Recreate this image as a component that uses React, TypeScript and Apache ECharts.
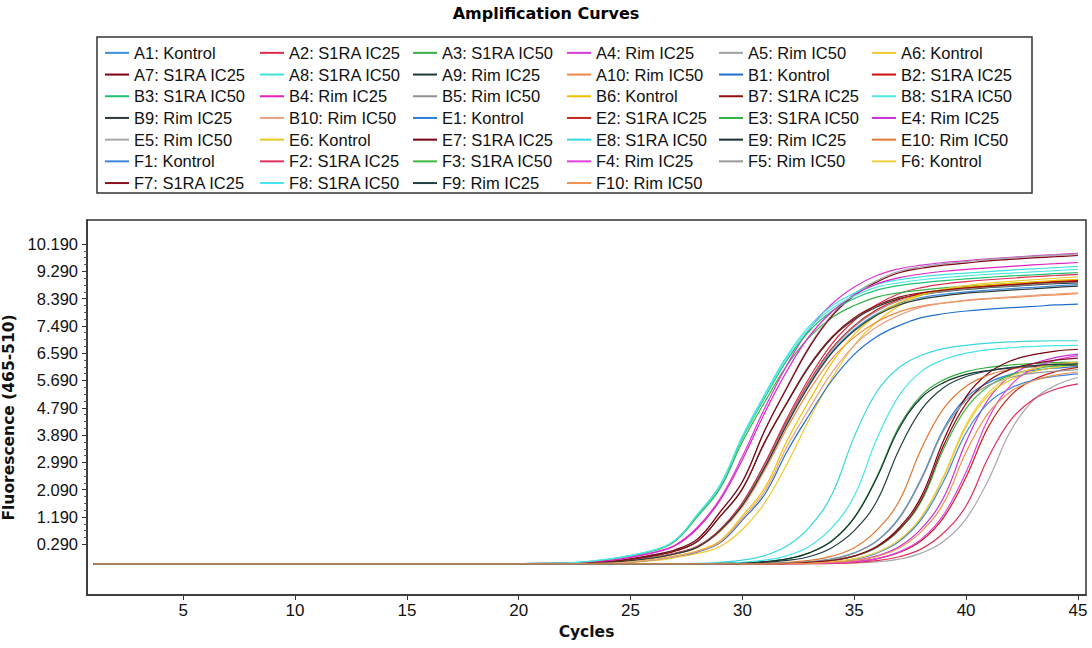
import React, { useEffect, useRef } from "react";
import * as echarts from "echarts";

const CYCLES = [1, 18, 22, 24, 26, 27, 28, 29, 30, 31, 32, 33, 34, 35, 36, 37, 38, 39, 40, 41, 42, 43, 44, 45];

// Early-rising wells (rows A and B)
const A1 = [-0.35, -0.35, -0.35, -0.31, -0.16, -0.02, 0.21, 0.74, 1.59, 2.84, 4.28, 5.57, 6.63, 7.37, 7.88, 8.23, 8.42, 8.53, 8.61, 8.67, 8.72, 8.76, 8.81, 8.85];
const A2 = [-0.35, -0.35, -0.35, -0.31, -0.15, 0.0, 0.23, 0.78, 1.67, 2.96, 4.45, 5.79, 6.9, 7.67, 8.19, 8.55, 8.75, 8.87, 8.95, 9.01, 9.06, 9.11, 9.15, 9.19];
const A3 = [-0.35, -0.35, -0.33, -0.21, 0.07, 0.4, 1.21, 2.13, 3.67, 4.98, 6.2, 7.13, 7.76, 8.16, 8.44, 8.58, 8.67, 8.74, 8.79, 8.84, 8.89, 8.93, 8.96, 9.0];
const A4 = [-0.35, -0.35, -0.34, -0.25, 0.02, 0.27, 0.86, 1.8, 3.19, 4.78, 6.21, 7.39, 8.21, 8.77, 9.15, 9.37, 9.49, 9.58, 9.64, 9.7, 9.75, 9.8, 9.84, 9.88];
const A5 = [-0.35, -0.35, -0.35, -0.29, -0.06, 0.11, 0.47, 1.36, 2.37, 4.06, 5.49, 6.83, 7.85, 8.54, 8.98, 9.29, 9.44, 9.54, 9.61, 9.68, 9.73, 9.78, 9.82, 9.86];
const A6 = [-0.35, -0.35, -0.35, -0.34, -0.25, -0.15, -0.01, 0.22, 0.78, 1.66, 2.95, 4.43, 5.76, 6.86, 7.62, 8.15, 8.5, 8.7, 8.82, 8.9, 8.96, 9.01, 9.06, 9.11];
const A7 = [-0.35, -0.35, -0.35, -0.29, -0.06, 0.11, 0.47, 1.35, 2.35, 4.04, 5.46, 6.79, 7.81, 8.49, 8.93, 9.24, 9.39, 9.49, 9.56, 9.63, 9.68, 9.73, 9.77, 9.81];
const A8 = [-0.35, -0.35, -0.33, -0.2, 0.09, 0.43, 1.29, 2.25, 3.86, 5.24, 6.51, 7.49, 8.15, 8.57, 8.86, 9.01, 9.11, 9.18, 9.23, 9.28, 9.33, 9.37, 9.41, 9.45];
const A9 = [-0.35, -0.35, -0.35, -0.29, -0.09, 0.07, 0.39, 1.2, 2.11, 3.65, 4.95, 6.16, 7.09, 7.71, 8.11, 8.39, 8.53, 8.62, 8.69, 8.75, 8.79, 8.84, 8.88, 8.91];
const A10 = [-0.35, -0.35, -0.35, -0.31, -0.16, -0.03, 0.19, 0.71, 1.53, 2.74, 4.13, 5.38, 6.41, 7.12, 7.62, 7.95, 8.14, 8.24, 8.32, 8.38, 8.42, 8.47, 8.51, 8.55];
const B1 = [-0.35, -0.35, -0.35, -0.33, -0.22, -0.11, 0.04, 0.34, 1.09, 1.94, 3.36, 4.57, 5.69, 6.55, 7.13, 7.5, 7.76, 7.89, 7.98, 8.04, 8.09, 8.13, 8.18, 8.21];
const B2 = [-0.35, -0.35, -0.35, -0.31, -0.15, -0.01, 0.21, 0.76, 1.62, 2.89, 4.35, 5.67, 6.75, 7.5, 8.02, 8.36, 8.56, 8.67, 8.76, 8.82, 8.86, 8.91, 8.96, 8.99];
const B3 = [-0.35, -0.35, -0.33, -0.21, 0.08, 0.42, 1.25, 2.19, 3.78, 5.12, 6.37, 7.33, 7.97, 8.39, 8.67, 8.82, 8.91, 8.98, 9.04, 9.09, 9.14, 9.17, 9.21, 9.25];
const B4 = [-0.35, -0.35, -0.34, -0.25, 0.01, 0.25, 0.82, 1.74, 3.08, 4.63, 6.02, 7.16, 7.96, 8.51, 8.87, 9.08, 9.2, 9.29, 9.35, 9.4, 9.45, 9.5, 9.54, 9.58];
const B5 = [-0.35, -0.35, -0.35, -0.31, -0.15, -0.01, 0.21, 0.75, 1.61, 2.88, 4.33, 5.63, 6.71, 7.46, 7.97, 8.32, 8.51, 8.63, 8.71, 8.77, 8.81, 8.86, 8.91, 8.94];
const B6 = [-0.35, -0.35, -0.35, -0.33, -0.21, -0.09, 0.08, 0.41, 1.23, 2.15, 3.71, 5.04, 6.27, 7.21, 7.84, 8.25, 8.53, 8.68, 8.77, 8.84, 8.89, 8.94, 8.99, 9.02];
const B7 = [-0.35, -0.35, -0.35, -0.29, -0.09, 0.07, 0.4, 1.21, 2.13, 3.67, 4.98, 6.2, 7.13, 7.76, 8.16, 8.44, 8.58, 8.67, 8.74, 8.79, 8.84, 8.89, 8.93, 8.96];
const B8 = [-0.35, -0.35, -0.33, -0.2, 0.09, 0.43, 1.27, 2.22, 3.82, 5.18, 6.44, 7.41, 8.06, 8.48, 8.77, 8.91, 9.01, 9.08, 9.14, 9.19, 9.23, 9.27, 9.31, 9.35];
const B9 = [-0.35, -0.35, -0.35, -0.31, -0.16, -0.02, 0.2, 0.74, 1.58, 2.82, 4.25, 5.54, 6.6, 7.33, 7.84, 8.18, 8.37, 8.48, 8.57, 8.62, 8.67, 8.71, 8.76, 8.8];
const B10 = [-0.35, -0.35, -0.35, -0.33, -0.22, -0.1, 0.06, 0.37, 1.15, 2.04, 3.52, 4.78, 5.95, 6.85, 7.45, 7.84, 8.11, 8.25, 8.34, 8.4, 8.45, 8.5, 8.54, 8.58];

// Late-rising wells (rows E and F)
const E1 = [-0.35, -0.35, -0.35, -0.35, -0.35, -0.35, -0.35, -0.35, -0.35, -0.34, -0.32, -0.28, -0.19, 0.01, 0.4, 1.16, 2.47, 4.1, 5.12, 5.62, 5.89, 6.02, 6.1, 6.15];
const E2 = [-0.35, -0.35, -0.35, -0.35, -0.35, -0.35, -0.35, -0.35, -0.35, -0.35, -0.35, -0.34, -0.32, -0.28, -0.19, 0.02, 0.41, 1.18, 2.51, 4.17, 5.2, 5.71, 5.98, 6.12];
const E3 = [-0.35, -0.35, -0.35, -0.35, -0.35, -0.35, -0.35, -0.34, -0.32, -0.28, -0.19, 0.02, 0.41, 1.18, 2.51, 4.17, 5.2, 5.71, 5.98, 6.12, 6.2, 6.25, 6.28, 6.3];
const E4 = [-0.35, -0.35, -0.35, -0.35, -0.35, -0.35, -0.35, -0.35, -0.35, -0.35, -0.35, -0.34, -0.3, -0.24, -0.09, 0.21, 0.81, 1.84, 3.67, 5.08, 5.85, 6.24, 6.45, 6.56];
const E5 = [-0.35, -0.35, -0.35, -0.35, -0.35, -0.35, -0.35, -0.35, -0.35, -0.35, -0.35, -0.35, -0.35, -0.32, -0.29, -0.2, 0.0, 0.39, 1.13, 2.42, 4.04, 5.04, 5.53, 5.79];
const E6 = [-0.35, -0.35, -0.35, -0.35, -0.35, -0.35, -0.35, -0.35, -0.35, -0.35, -0.34, -0.32, -0.28, -0.19, 0.02, 0.41, 1.18, 2.51, 4.17, 5.2, 5.71, 5.98, 6.12, 6.2];
const E7 = [-0.35, -0.35, -0.35, -0.35, -0.35, -0.35, -0.35, -0.35, -0.35, -0.35, -0.34, -0.3, -0.24, -0.09, 0.22, 0.83, 1.87, 3.73, 5.16, 5.94, 6.34, 6.54, 6.66, 6.72];
const E8 = [-0.35, -0.35, -0.35, -0.35, -0.35, -0.35, -0.34, -0.3, -0.23, -0.08, 0.24, 0.86, 1.93, 3.84, 5.31, 6.12, 6.52, 6.74, 6.85, 6.92, 6.96, 6.99, 7.0, 7.0];
const E9 = [-0.35, -0.35, -0.35, -0.35, -0.35, -0.35, -0.35, -0.34, -0.32, -0.28, -0.19, 0.01, 0.4, 1.16, 2.47, 4.1, 5.12, 5.62, 5.89, 6.02, 6.1, 6.15, 6.18, 6.2];
const E10 = [-0.35, -0.35, -0.35, -0.35, -0.35, -0.35, -0.35, -0.35, -0.35, -0.34, -0.3, -0.24, -0.1, 0.18, 0.75, 1.71, 3.44, 4.77, 5.5, 5.87, 6.06, 6.17, 6.23, 6.27];
const F1 = [-0.35, -0.35, -0.35, -0.35, -0.35, -0.35, -0.35, -0.35, -0.35, -0.35, -0.34, -0.32, -0.29, -0.2, 0.0, 0.38, 1.11, 2.38, 3.97, 4.95, 5.44, 5.7, 5.83, 5.91];
const F2 = [-0.35, -0.35, -0.35, -0.35, -0.35, -0.35, -0.35, -0.35, -0.35, -0.35, -0.35, -0.35, -0.34, -0.31, -0.25, -0.12, 0.14, 0.67, 1.56, 3.16, 4.39, 5.06, 5.4, 5.58];
const F3 = [-0.35, -0.35, -0.35, -0.35, -0.35, -0.35, -0.35, -0.35, -0.35, -0.35, -0.34, -0.3, -0.24, -0.1, 0.18, 0.75, 1.71, 3.44, 4.77, 5.5, 5.87, 6.06, 6.17, 6.23];
const F4 = [-0.35, -0.35, -0.35, -0.35, -0.35, -0.35, -0.35, -0.35, -0.35, -0.35, -0.35, -0.34, -0.32, -0.28, -0.18, 0.04, 0.46, 1.27, 2.68, 4.44, 5.54, 6.08, 6.36, 6.51];
const F5 = [-0.35, -0.35, -0.35, -0.35, -0.35, -0.35, -0.35, -0.35, -0.35, -0.34, -0.32, -0.29, -0.2, 0.0, 0.39, 1.13, 2.42, 4.04, 5.04, 5.53, 5.79, 5.93, 6.0, 6.05];
const F6 = [-0.35, -0.35, -0.35, -0.35, -0.35, -0.35, -0.35, -0.35, -0.35, -0.35, -0.34, -0.32, -0.28, -0.19, 0.02, 0.43, 1.2, 2.55, 4.24, 5.29, 5.81, 6.08, 6.22, 6.3];
const F7 = [-0.35, -0.35, -0.35, -0.35, -0.35, -0.35, -0.35, -0.35, -0.35, -0.35, -0.34, -0.3, -0.24, -0.1, 0.2, 0.78, 1.77, 3.56, 4.93, 5.68, 6.06, 6.25, 6.36, 6.43];
const F8 = [-0.35, -0.35, -0.35, -0.35, -0.35, -0.35, -0.35, -0.34, -0.3, -0.23, -0.08, 0.23, 0.84, 1.88, 3.75, 5.19, 5.99, 6.38, 6.59, 6.71, 6.77, 6.81, 6.84, 6.85];
const F9 = [-0.35, -0.35, -0.35, -0.35, -0.35, -0.35, -0.35, -0.35, -0.34, -0.3, -0.24, -0.11, 0.18, 0.74, 1.7, 3.41, 4.73, 5.46, 5.82, 6.01, 6.12, 6.18, 6.22, 6.24];
const F10 = [-0.35, -0.35, -0.35, -0.35, -0.35, -0.35, -0.35, -0.35, -0.35, -0.35, -0.35, -0.34, -0.3, -0.25, -0.11, 0.17, 0.71, 1.65, 3.33, 4.62, 5.33, 5.68, 5.87, 5.97];

const WELLS = [
  "A1", "A2", "A3", "A4", "A5", "A6", "A7", "A8", "A9", "A10",
  "B1", "B2", "B3", "B4", "B5", "B6", "B7", "B8", "B9", "B10",
  "E1", "E2", "E3", "E4", "E5", "E6", "E7", "E8", "E9", "E10",
  "F1", "F2", "F3", "F4", "F5", "F6", "F7", "F8", "F9", "F10",
];
const GROUPS = ["Kontrol", "S1RA IC25", "S1RA IC50", "Rim IC25", "Rim IC50", "Kontrol", "S1RA IC25", "S1RA IC50", "Rim IC25", "Rim IC50"];
const VALUES = [
  A1, A2, A3, A4, A5, A6, A7, A8, A9, A10,
  B1, B2, B3, B4, B5, B6, B7, B8, B9, B10,
  E1, E2, E3, E4, E5, E6, E7, E8, E9, E10,
  F1, F2, F3, F4, F5, F6, F7, F8, F9, F10,
];
const COLORS = [
  "#3c8ddc", "#dc2a4a", "#38b048", "#d838d8", "#a0a0a0", "#f0c830", "#800018", "#40e0e0", "#203838", "#f08848",
  "#1f6fcf", "#d01010", "#20c070", "#e020c8", "#909090", "#f0c000", "#901010", "#50e8e0", "#2a3a3a", "#e8a080",
  "#2a7fd4", "#c8241c", "#30b040", "#c830d0", "#a8a8a8", "#e8c820", "#7a0010", "#38d8e0", "#183030", "#e07830",
  "#3a86e0", "#e0305a", "#40b840", "#e040e0", "#989898", "#f0d040", "#8a1020", "#48e4f0", "#204040", "#f09050",
];

const Y_TICKS = [0.29, 1.19, 2.09, 2.99, 3.89, 4.79, 5.69, 6.59, 7.49, 8.39, 9.29, 10.19];
const X_TICKS = [5, 10, 15, 20, 25, 30, 35, 40, 45];

const SANS = "'Liberation Sans', Arial, sans-serif";
const BOLD = "'DejaVu Sans', 'Liberation Sans', sans-serif";

export default function App() {
  const ref = useRef<HTMLDivElement>(null);

  useEffect(() => {
    const chart = echarts.init(ref.current as HTMLDivElement, null, { renderer: "svg" });
    const names = WELLS.map((w, i) => `${w}: ${GROUPS[i % 10]}`);

    const minorTicks: number[] = [];
    for (let i = 0; i < Y_TICKS.length - 1; i++) {
      for (let k = 1; k < 4; k++) minorTicks.push(+(Y_TICKS[i] + (k * 0.9) / 4).toFixed(3));
    }

    const series = VALUES.map((vals, i) => ({
      type: "line",
      name: names[i],
      data: vals.map((v, j) => [CYCLES[j], v]),
      showSymbol: false,
      symbol: "none",
      smooth: 0.4,
      silent: true,
      lineStyle: { width: 1.2, color: COLORS[i] },
      itemStyle: { color: COLORS[i] },
      emphasis: { disabled: true },
    }));

    const colLeft = [105, 260, 413, 567, 719, 872];
    const legends = colLeft.map((left, c) => ({
      orient: "vertical",
      left,
      top: 42,
      padding: 0,
      itemGap: 0,
      itemWidth: 24,
      itemHeight: 2,
      icon: "rect",
      selectedMode: false,
      data: names.filter((_, i) => i % 6 === c),
      textStyle: { fontFamily: SANS, fontSize: 16.5, lineHeight: 21.7, color: "#111" },
    }));

    chart.setOption({
      animation: false,
      backgroundColor: "#ffffff",
      title: {
        text: "Amplification Curves",
        left: "center",
        top: 5,
        padding: 0,
        textStyle: { fontFamily: BOLD, fontWeight: "bold", fontSize: 16, color: "#000" },
      },
      legend: legends,
      graphic: [
        {
          type: "rect",
          silent: true,
          shape: { x: 97, y: 37, width: 935, height: 156 },
          style: { fill: "none", stroke: "#333", lineWidth: 1.5 },
        },
      ],
      grid: {
        left: 87,
        right: 6,
        top: 220,
        bottom: 53,
        show: true,
        borderColor: "#333",
        borderWidth: 1.5,
        containLabel: false,
        outerBoundsMode: "none",
      },
      xAxis: {
        type: "value",
        min: 0.7,
        max: 45.36,
        name: "Cycles",
        nameLocation: "middle",
        nameGap: 28,
        nameTextStyle: { fontFamily: BOLD, fontWeight: "bold", fontSize: 15.5, color: "#111" },
        axisLine: { show: true, onZero: false, lineStyle: { color: "#333", width: 1.5 } },
        axisTick: { show: true, customValues: X_TICKS, length: 5, lineStyle: { color: "#333" } },
        axisLabel: { customValues: X_TICKS, fontFamily: SANS, fontSize: 17, color: "#111", margin: 7 },
        splitLine: { show: false },
      },
      yAxis: [
        {
          type: "value",
          min: -1.38,
          max: 10.98,
          position: "left",
          name: "Fluorescence (465-510)",
          nameLocation: "middle",
          nameGap: 62,
          nameTextStyle: {
            fontFamily: BOLD,
            fontWeight: "bold",
            fontSize: 15.5,
            color: "#111",
            padding: [0, 20, 0, 0],
          },
          axisLine: { show: true, onZero: false, lineStyle: { color: "#333", width: 1.5 } },
          axisTick: { show: true, customValues: Y_TICKS, length: 5, lineStyle: { color: "#333" } },
          axisLabel: {
            customValues: Y_TICKS,
            formatter: (v: number) => v.toFixed(3),
            fontFamily: SANS,
            fontSize: 16.5,
            color: "#111",
            margin: 9,
          },
          splitLine: { show: false },
        },
        {
          type: "value",
          min: -1.38,
          max: 10.98,
          position: "left",
          axisLine: { show: false, onZero: false },
          axisLabel: { show: false },
          axisTick: { show: true, customValues: minorTicks, length: 3, lineStyle: { color: "#555" } },
          splitLine: { show: false },
        },
      ],
      series,
    });

    return () => chart.dispose();
  }, []);

  return (
    <div
      ref={ref}
      style={{ position: "fixed", left: 0, top: 0, width: 1092, height: 648, background: "#fff" }}
    />
  );
}
